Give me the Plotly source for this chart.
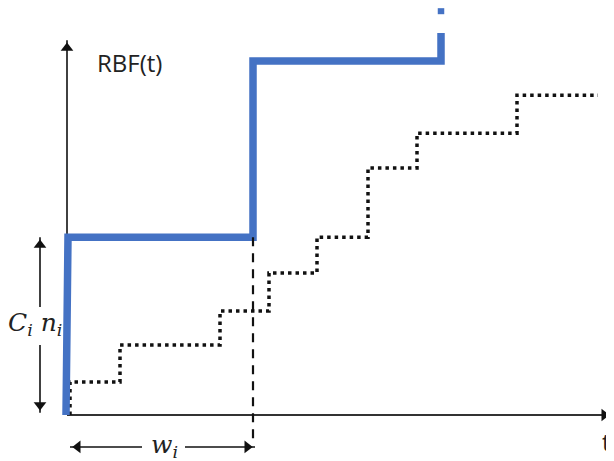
import plotly.graph_objects as go

# The page body has an 8px margin, so the figure is sized to fit the window
W, H = 606, 453
X_RANGE = [-1.18, 10.94]
Y_RANGE = [-1.296, 11.465]
PX_X = W / (X_RANGE[1] - X_RANGE[0])   # pixels per time unit
PX_Y = H / (Y_RANGE[1] - Y_RANGE[0])   # pixels per RBF unit

# ---- data ----
rbf_t = [-0.02, 0.02, 3.72, 3.72, 7.48, 7.48]
rbf_v = [0.0, 5.01, 5.01, 9.97, 9.97, 10.76]
rbf_tail_t = [7.48, 7.48]
rbf_tail_v = [11.29, 11.46]

stair_t = [0.06, 0.06, 1.06, 3.06, 4.04, 5.0, 6.02, 7.0, 9.0, 10.62]
stair_v = [0.0, 0.93, 1.97, 2.93, 4.0, 5.01, 6.96, 7.94, 9.01, 9.01]

w_i = 3.72        # window length
Cn_i = 5.01       # burst C_i * n_i
t_axis_end = 10.9
rbf_axis_end = 10.56

BLUE = "#4472C4"
INK = "#111111"

fig = go.Figure()

# dotted staircase
fig.add_trace(go.Scatter(x=stair_t, y=stair_v, mode="lines", line_shape="hv",
                         line=dict(color=INK, width=3.5, dash="3.5px,4px"),
                         hoverinfo="skip", showlegend=False))
# blue RBF curve
fig.add_trace(go.Scatter(x=rbf_t, y=rbf_v, mode="lines",
                         line=dict(color=BLUE, width=7.5),
                         hoverinfo="skip", showlegend=False))
fig.add_trace(go.Scatter(x=rbf_tail_t, y=rbf_tail_v, mode="lines",
                         line=dict(color=BLUE, width=6.5),
                         hoverinfo="skip", showlegend=False))

shapes = []
def seg(x0, y0, x1, y1, width=1.6, color=INK, dash=None, layer="below"):
    d = dict(type="line", xref="x", yref="y", x0=x0, y0=y0, x1=x1, y1=y1,
             line=dict(color=color, width=width), layer=layer)
    if dash:
        d["line"]["dash"] = dash
    shapes.append(d)

# axes
seg(0, 0, t_axis_end, 0, width=2, color="#333333")
seg(0, 0, 0, rbf_axis_end, width=1.6)
# dashed marker of window end
seg(w_i, Cn_i, w_i, -0.7, width=2.2, dash="9px,7px", layer="above")

# vertical double arrow (C_i n_i)
xa = -0.54
seg(xa, Cn_i, xa, 3.04)
seg(xa, 1.97, xa, 0.06)
# horizontal double arrow (w_i)
ya = -0.9
seg(0.06, ya, 1.5, ya)
seg(2.36, ya, w_i + 0.04, ya)

# arrowheads as triangle markers, positioned so the tip lands on the end point
MS = 11
r = MS / 2
off = 1.414 * r
heads = [
    (0, rbf_axis_end, "triangle-up"),
    (t_axis_end, 0, "triangle-right"),
    (xa, Cn_i, "triangle-up"),
    (xa, 0.06, "triangle-down"),
    (0.06, ya, "triangle-left"),
    (w_i + 0.04, ya, "triangle-right"),
]
hx, hy, hs = [], [], []
for x, y, s in heads:
    if s == "triangle-up":
        y -= off / PX_Y
    elif s == "triangle-down":
        y += off / PX_Y
    elif s == "triangle-right":
        x -= off / PX_X
    else:
        x += off / PX_X
    hx.append(x); hy.append(y); hs.append(s)
fig.add_trace(go.Scatter(x=hx, y=hy, mode="markers",
                         marker=dict(symbol=hs, size=MS, color=INK, line=dict(width=0)),
                         hoverinfo="skip", showlegend=False))

annotations = [
    dict(x=1.24, y=9.92, text="RBF(t)", xanchor="center", yanchor="middle",
         font=dict(family="Open Sans, Liberation Sans", size=24, color="#222222")),
    dict(x=10.92, y=-1.26, text="t", xanchor="right", yanchor="bottom",
         font=dict(family="Open Sans, Liberation Sans", size=24, color="#222222")),
    dict(x=-0.64, y=2.55, text="<i>C</i><sub><i>i</i></sub> <i>n</i><sub><i>i</i></sub>",
         xanchor="center", yanchor="middle",
         font=dict(family="DejaVu Serif", size=25, color="#222222")),
    dict(x=1.94, y=-0.88, text="<i>w</i><sub><i>i</i></sub>", xanchor="center", yanchor="middle",
         font=dict(family="DejaVu Serif", size=25, color="#222222")),
]
for a in annotations:
    a.update(xref="x", yref="y", showarrow=False)

fig.update_layout(
    width=W, height=H, autosize=False,
    margin=dict(l=0, r=0, t=0, b=0, pad=0),
    paper_bgcolor="white", plot_bgcolor="white",
    xaxis=dict(range=X_RANGE, visible=False, fixedrange=True),
    yaxis=dict(range=Y_RANGE, visible=False, fixedrange=True),
    shapes=shapes, annotations=annotations, showlegend=False,
)

fig.write_html("out.html")
